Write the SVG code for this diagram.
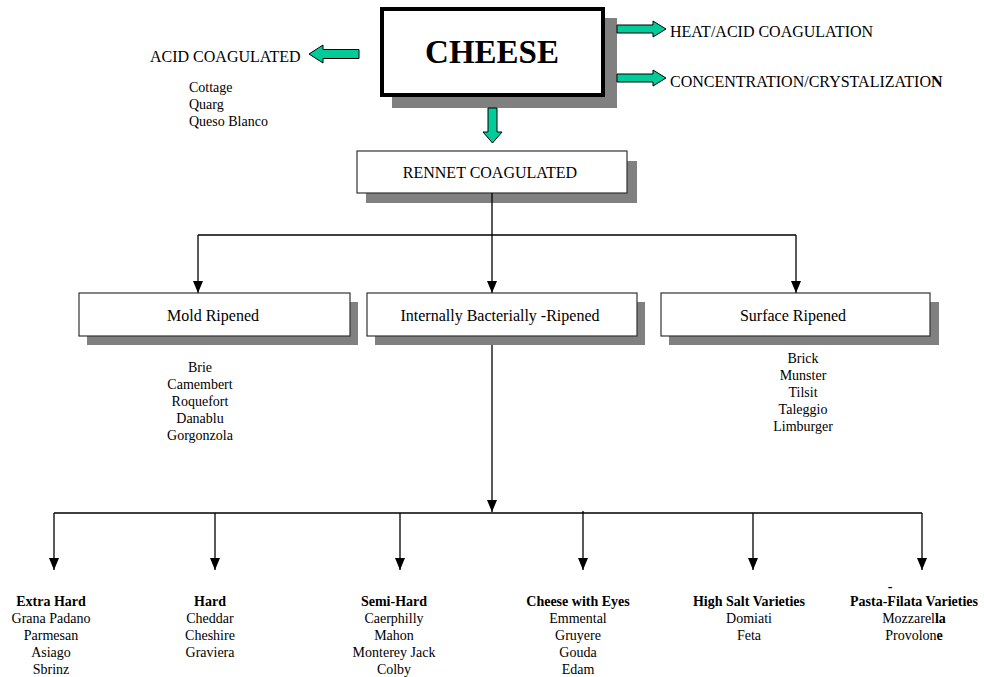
<svg xmlns="http://www.w3.org/2000/svg" width="984" height="677" viewBox="0 0 984 677">
  <style>
    text { font-family: "Liberation Serif", "Times New Roman", serif; fill: #000; }
    .t16 { font-size: 16px; }
    .t14 { font-size: 14px; }
    .mid { text-anchor: middle; }
    .b { font-weight: bold; }
    .box { fill: #fff; stroke: #333; stroke-width: 1.2; }
    .shadow { fill: #808080; }
    .big { fill: #00CC99; stroke: #000; stroke-width: 1; }
    .line { fill: none; stroke: #000; stroke-width: 1.3; }
  </style>
  <defs>
    <marker id="head" viewBox="0 0 12 10" refX="12" refY="5" markerWidth="12" markerHeight="10" markerUnits="userSpaceOnUse" orient="auto">
      <path d="M0,0 L12,5 L0,10 z" fill="#000"/>
    </marker>
  </defs>

  <rect width="984" height="677" fill="#fff"/>

  <!-- top node -->
  <g id="cheese">
    <rect class="shadow" x="392" y="18" width="225" height="90"/>
    <rect x="382" y="9" width="221" height="86" fill="#fff" stroke="#000" stroke-width="4"/>
    <text x="492" y="63" class="mid b" font-size="33">CHEESE</text>
  </g>

  <!-- broad arrows out of the top node -->
  <g id="broad-arrows">
    <polygon class="big" points="309,54 323,45 323,49.5 359,49.5 359,58.5 323,58.5 323,63"/>
    <polygon class="big" points="617,25 653,25 653,21 666,29 653,37 653,33 617,33"/>
    <polygon class="big" points="617,74 653,74 653,70 666,78 653,86 653,82 617,82"/>
    <polygon class="big" points="488,108 497,108 497,132 502,132 492.5,143 483,132 488,132"/>
  </g>

  <g id="acid">
    <text x="150" y="62" class="t16">ACID COAGULATED</text>
    <text x="189" y="92" class="t14">Cottage</text>
    <text x="189" y="109" class="t14">Quarg</text>
    <text x="189" y="126" class="t14">Queso Blanco</text>
  </g>

  <g id="heat-acid">
    <text x="670" y="37" class="t16">HEAT/ACID COAGULATION</text>
  </g>

  <g id="concentration">
    <text x="670" y="87" class="t16">CONCENTRATION/CRYSTALIZATIO<tspan class="b">N</tspan></text>
  </g>

  <g id="rennet">
    <rect class="shadow" x="366" y="161" width="271" height="42"/>
    <rect class="box" x="357" y="151" width="270" height="42"/>
    <text x="490" y="178" class="t16 mid">RENNET COAGULATED</text>
  </g>

  <!-- thin connectors -->
  <g id="connectors">
    <path class="line" d="M492,193 V235 M198,235 H796"/>
    <path class="line" d="M198,235 V293" marker-end="url(#head)"/>
    <path class="line" d="M492,235 V293" marker-end="url(#head)"/>
    <path class="line" d="M796,235 V293" marker-end="url(#head)"/>
    <path class="line" d="M492,336 V512" marker-end="url(#head)"/>
    <path class="line" d="M54,513 H922"/>
    <path class="line" d="M54,513 V570" marker-end="url(#head)"/>
    <path class="line" d="M215,513 V570" marker-end="url(#head)"/>
    <path class="line" d="M400,513 V570" marker-end="url(#head)"/>
    <path class="line" d="M583,511 V570" marker-end="url(#head)"/>
    <path class="line" d="M753,513 V570" marker-end="url(#head)"/>
    <path class="line" d="M922,513 V570" marker-end="url(#head)"/>
  </g>

  <g id="mold">
    <rect class="shadow" x="87" y="302" width="271" height="43"/>
    <rect class="box" x="79" y="293" width="271" height="43"/>
    <text x="213" y="321" class="t16 mid">Mold Ripened</text>
    <text x="200" y="372" class="t14 mid">Brie</text>
    <text x="200" y="389" class="t14 mid">Camembert</text>
    <text x="200" y="406" class="t14 mid">Roquefort</text>
    <text x="200" y="423" class="t14 mid">Danablu</text>
    <text x="200" y="440" class="t14 mid">Gorgonzola</text>
  </g>

  <g id="internal">
    <rect class="shadow" x="375" y="302" width="270" height="43"/>
    <rect class="box" x="367" y="293" width="270" height="43"/>
    <text x="500" y="321" class="t16 mid">Internally Bacterially -Ripened</text>
  </g>

  <g id="surface">
    <rect class="shadow" x="669" y="302" width="270" height="43"/>
    <rect class="box" x="661" y="293" width="269" height="43"/>
    <text x="793" y="321" class="t16 mid">Surface Ripened</text>
    <text x="803" y="363" class="t14 mid">Brick</text>
    <text x="803" y="380" class="t14 mid">Munster</text>
    <text x="803" y="397" class="t14 mid">Tilsit</text>
    <text x="803" y="414" class="t14 mid">Taleggio</text>
    <text x="803" y="431" class="t14 mid">Limburger</text>
  </g>

  <g id="extra-hard" class="t14 mid">
    <text x="51" y="606" class="b">Extra Hard</text>
    <text x="51" y="623">Grana Padano</text>
    <text x="51" y="640">Parmesan</text>
    <text x="51" y="657">Asiago</text>
    <text x="51" y="674">Sbrinz</text>
  </g>

  <g id="hard" class="t14 mid">
    <text x="210" y="606" class="b">Hard</text>
    <text x="210" y="623">Cheddar</text>
    <text x="210" y="640">Cheshire</text>
    <text x="210" y="657">Graviera</text>
  </g>

  <g id="semi-hard" class="t14 mid">
    <text x="394" y="606" class="b">Semi-Hard</text>
    <text x="394" y="623">Caerphilly</text>
    <text x="394" y="640">Mahon</text>
    <text x="394" y="657">Monterey Jack</text>
    <text x="394" y="674">Colby</text>
  </g>

  <g id="eyes" class="t14 mid">
    <text x="578" y="606" class="b">Cheese with Eyes</text>
    <text x="578" y="623">Emmental</text>
    <text x="578" y="640">Gruyere</text>
    <text x="578" y="657">Gouda</text>
    <text x="578" y="674">Edam</text>
  </g>

  <g id="high-salt" class="t14 mid">
    <text x="749" y="606" class="b">High Salt Varieties</text>
    <text x="749" y="623">Domiati</text>
    <text x="749" y="640">Feta</text>
  </g>

  <g id="pasta-filata" class="t14 mid">
    <text x="890" y="591" class="b">-</text>
    <text x="914" y="606" class="b">Pasta-Filata Varieties</text>
    <text x="914" y="623">Mozzarel<tspan class="b">la</tspan></text>
    <text x="914" y="640">Provolon<tspan class="b">e</tspan></text>
  </g>
</svg>
